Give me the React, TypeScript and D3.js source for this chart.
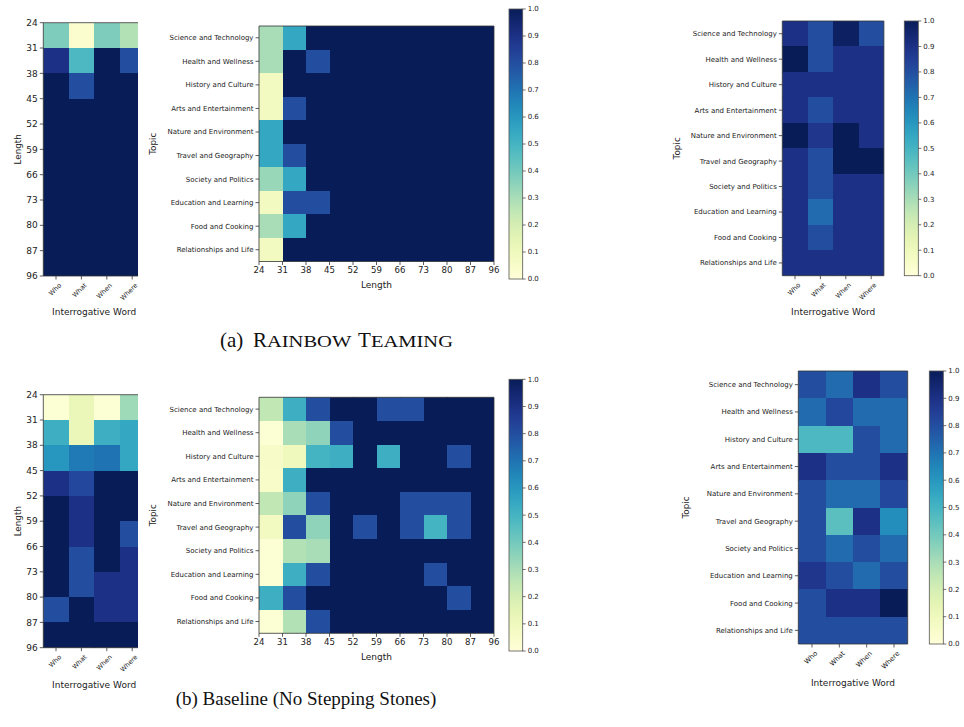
import React from "react";
import * as d3 from "d3";

const topics = [
  "Science and Technology",
  "Health and Wellness",
  "History and Culture",
  "Arts and Entertainment",
  "Nature and Environment",
  "Travel and Geography",
  "Society and Politics",
  "Education and Learning",
  "Food and Cooking",
  "Relationships and Life",
];
const words = ["Who", "What", "When", "Where"];
const lengthTicks = ["24", "31", "38", "45", "52", "59", "66", "73", "80", "87", "96"];
const cbTicks = [0, 0.1, 0.2, 0.3, 0.4, 0.5, 0.6, 0.7, 0.8, 0.9, 1.0];

// (a) Rainbow Teaming
const rtLengthWord = [
  [0.38, 0.03, 0.38, 0.28],
  [0.9, 0.48, 1, 0.8],
  [1, 0.8, 1, 1],
  [1, 1, 1, 1],
  [1, 1, 1, 1],
  [1, 1, 1, 1],
  [1, 1, 1, 1],
  [1, 1, 1, 1],
  [1, 1, 1, 1],
  [1, 1, 1, 1],
];
const rtTopicLength = [
  [0.3, 0.55, 1, 1, 1, 1, 1, 1, 1, 1],
  [0.3, 1, 0.8, 1, 1, 1, 1, 1, 1, 1],
  [0.08, 1, 1, 1, 1, 1, 1, 1, 1, 1],
  [0.08, 0.8, 1, 1, 1, 1, 1, 1, 1, 1],
  [0.55, 1, 1, 1, 1, 1, 1, 1, 1, 1],
  [0.55, 0.8, 1, 1, 1, 1, 1, 1, 1, 1],
  [0.33, 0.55, 1, 1, 1, 1, 1, 1, 1, 1],
  [0.08, 0.8, 0.8, 1, 1, 1, 1, 1, 1, 1],
  [0.3, 0.55, 1, 1, 1, 1, 1, 1, 1, 1],
  [0.08, 1, 1, 1, 1, 1, 1, 1, 1, 1],
];
const rtTopicWord = [
  [0.9, 0.8, 0.98, 0.8],
  [1, 0.8, 0.9, 0.9],
  [0.9, 0.9, 0.9, 0.9],
  [0.9, 0.8, 0.9, 0.9],
  [1, 0.88, 1, 0.9],
  [0.9, 0.8, 1, 1],
  [0.9, 0.8, 0.9, 0.9],
  [0.9, 0.72, 0.9, 0.9],
  [0.9, 0.8, 0.9, 0.9],
  [0.9, 0.9, 0.9, 0.9],
];

// (b) Baseline (No Stepping Stones)
const blLengthWord = [
  [0.02, 0.12, 0.02, 0.32],
  [0.52, 0.12, 0.52, 0.55],
  [0.6, 0.68, 0.7, 0.55],
  [0.9, 0.82, 1, 1],
  [1, 0.9, 1, 1],
  [1, 0.9, 1, 0.8],
  [1, 0.8, 1, 0.9],
  [1, 0.8, 0.9, 0.9],
  [0.8, 1, 0.9, 0.9],
  [1, 1, 1, 1],
];
const blTopicLength = [
  [0.25, 0.52, 0.8, 1, 1, 0.8, 0.8, 1, 1, 1],
  [0.02, 0.3, 0.35, 0.8, 1, 1, 1, 1, 1, 1],
  [0.06, 0.1, 0.5, 0.52, 1, 0.52, 1, 1, 0.8, 1],
  [0.05, 0.52, 1, 1, 1, 1, 1, 1, 1, 1],
  [0.25, 0.35, 0.8, 1, 1, 1, 0.8, 0.8, 0.8, 1],
  [0.08, 0.8, 0.35, 1, 0.8, 1, 0.8, 0.5, 0.8, 1],
  [0.02, 0.28, 0.3, 1, 1, 1, 1, 1, 1, 1],
  [0.02, 0.52, 0.8, 1, 1, 1, 1, 0.8, 1, 1],
  [0.52, 0.8, 1, 1, 1, 1, 1, 1, 0.8, 1],
  [0.02, 0.28, 0.8, 1, 1, 1, 1, 1, 1, 1],
];
const blTopicWord = [
  [0.8, 0.72, 0.9, 0.8],
  [0.72, 0.82, 0.72, 0.72],
  [0.48, 0.48, 0.8, 0.72],
  [0.9, 0.8, 0.8, 0.9],
  [0.8, 0.72, 0.72, 0.82],
  [0.8, 0.45, 0.9, 0.63],
  [0.8, 0.72, 0.8, 0.72],
  [0.88, 0.8, 0.72, 0.8],
  [0.8, 0.9, 0.9, 1.0],
  [0.8, 0.8, 0.8, 0.8],
];

const color = d3.scaleSequential(d3.interpolateYlGnBu).domain([0, 1]);
const FONT = "DejaVu Sans, sans-serif";
const SERIF = "Liberation Serif, serif";
const INK = "#333";

type HMProps = {
  id: string;
  data: number[][];
  left: number;
  top: number;
  cw: number;
  ch: number;
  rowLabels: string[];
  colLabels: string[];
  rowEdges?: boolean;
  colEdges?: boolean;
  clipRight?: number;
  xTitle: string;
  yTitle: string;
  xTitleY: number;
  yTitleX: number;
  rowFont: number;
  colFont: number;
  rotateX?: boolean;
};

const Heatmap = (p: HMProps) => {
  const nR = p.data.length;
  const nC = p.data[0].length;
  const fullRight = p.left + nC * p.cw;
  const bottom = p.top + nR * p.ch;
  const right = p.clipRight ?? fullRight;
  const x = d3.scaleBand<number>().domain(d3.range(nC)).range([p.left, fullRight]);
  const y = d3.scaleBand<number>().domain(d3.range(nR)).range([p.top, bottom]);
  const xe = d3.scaleLinear().domain([0, nC]).range([p.left, fullRight]);
  const ye = d3.scaleLinear().domain([0, nR]).range([p.top, bottom]);

  const yTicks = p.rowEdges
    ? p.rowLabels.map((l, i) => ({ l, v: ye(i) }))
    : p.rowLabels.map((l, i) => ({ l, v: (y(i) as number) + y.bandwidth() / 2 }));
  const xTicks = p.colEdges
    ? p.colLabels.map((l, i) => ({ l, v: xe(i) }))
    : p.colLabels.map((l, i) => ({ l, v: (x(i) as number) + x.bandwidth() / 2 }));

  return (
    <g>
      <defs>
        <clipPath id={p.id}>
          <rect x={p.left} y={p.top} width={right - p.left} height={bottom - p.top} />
        </clipPath>
      </defs>
      <g clipPath={`url(#${p.id})`} shapeRendering="crispEdges">
        {p.data.map((row, r) =>
          row.map((v, c) => (
            <rect
              key={`${r}-${c}`}
              x={x(c)}
              y={y(r)}
              width={x.bandwidth() + 0.6}
              height={y.bandwidth() + 0.6}
              fill={color(v)}
            />
          ))
        )}
      </g>
      <path
        d={
          p.clipRight !== undefined
            ? `M${right},${p.top}H${p.left}V${bottom}H${right}`
            : `M${p.left},${p.top}H${right}V${bottom}H${p.left}Z`
        }
        fill="none"
        stroke={INK}
        strokeWidth={0.8}
      />
      {yTicks.map((t) => (
        <g key={`y${t.l}`}>
          <line x1={p.left - 3.5} x2={p.left} y1={t.v} y2={t.v} stroke={INK} strokeWidth={0.8} />
          <text
            x={p.left - 5.5}
            y={t.v}
            dy="0.35em"
            textAnchor="end"
            fontSize={p.rowFont}
            fontFamily={FONT}
            fill="#222"
          >
            {t.l}
          </text>
        </g>
      ))}
      {xTicks.map((t) => (
        <g key={`x${t.l}`}>
          <line x1={t.v} x2={t.v} y1={bottom} y2={bottom + 3.5} stroke={INK} strokeWidth={0.8} />
          {p.rotateX ? (
            <text
              transform={`translate(${t.v + 2.5},${bottom + 6.5}) rotate(-45)`}
              dy="0.7em"
              textAnchor="end"
              fontSize={p.colFont}
              fontFamily={FONT}
              fill="#222"
            >
              {t.l}
            </text>
          ) : (
            <text
              x={t.v}
              y={bottom + 5}
              dy="0.78em"
              textAnchor="middle"
              fontSize={p.colFont}
              fontFamily={FONT}
              fill="#222"
            >
              {t.l}
            </text>
          )}
        </g>
      ))}
      <text
        x={(p.left + fullRight) / 2}
        y={p.xTitleY}
        textAnchor="middle"
        fontSize={9}
        fontFamily={FONT}
        fill="#222"
      >
        {p.xTitle}
      </text>
      <text
        transform={`translate(${p.yTitleX},${(p.top + bottom) / 2}) rotate(-90)`}
        textAnchor="middle"
        fontSize={8.8}
        fontFamily={FONT}
        fill="#222"
      >
        {p.yTitle}
      </text>
    </g>
  );
};

type CBProps = { id: string; left: number; top: number; w: number; h: number };

const Colorbar = (p: CBProps) => {
  const yScale = d3.scaleLinear().domain([0, 1]).range([p.top + p.h, p.top]);
  const stops = d3.range(0, 1.0001, 0.05);
  return (
    <g>
      <defs>
        <linearGradient id={p.id} x1="0" y1="1" x2="0" y2="0">
          {stops.map((s) => (
            <stop key={s} offset={s} stopColor={color(s)} />
          ))}
        </linearGradient>
      </defs>
      <rect x={p.left} y={p.top} width={p.w} height={p.h} fill={`url(#${p.id})`} stroke="#555" strokeWidth={0.8} />
      {cbTicks.map((t) => (
        <g key={t}>
          <line
            x1={p.left + p.w}
            x2={p.left + p.w + 3}
            y1={yScale(t)}
            y2={yScale(t)}
            stroke={INK}
            strokeWidth={0.7}
          />
          <text
            x={p.left + p.w + 5}
            y={yScale(t)}
            dy="0.35em"
            fontSize={7}
            fontFamily={FONT}
            fill="#222"
          >
            {t.toFixed(1)}
          </text>
        </g>
      ))}
    </g>
  );
};

// small-caps word: full-width capitals squashed vertically
const SmallCaps = ({ x, y, text }: { x: number; y: number; text: string }) => (
  <text
    transform={`translate(${x},${y}) scale(1,0.78)`}
    fontFamily={SERIF}
    fontSize={20.5}
    fill="#111"
  >
    {text}
  </text>
);

const App = () => {
  return (
    <svg
      width={964}
      height={727}
      style={{ position: "absolute", left: 0, top: 0, background: "#fff" }}
    >
      <rect width={964} height={727} fill="#fff" />

      {/* (a) Rainbow Teaming */}
      <Heatmap
        id="c1"
        data={rtLengthWord}
        left={43.3}
        top={22.7}
        cw={25.4}
        ch={25.33}
        rowLabels={lengthTicks}
        colLabels={words}
        rowEdges
        clipRight={138}
        rotateX
        xTitle="Interrogative Word"
        yTitle="Length"
        xTitleY={315}
        yTitleX={21}
        rowFont={9}
        colFont={6.5}
      />
      <Heatmap
        id="c2"
        data={rtTopicLength}
        left={259}
        top={26}
        cw={23.5}
        ch={23.55}
        rowLabels={topics}
        colLabels={lengthTicks}
        colEdges
        xTitle="Length"
        yTitle="Topic"
        xTitleY={288}
        yTitleX={156}
        rowFont={7}
        colFont={8.6}
      />
      <Colorbar id="g1" left={509} top={9} w={13.7} h={270} />
      <Heatmap
        id="c3"
        data={rtTopicWord}
        left={782.3}
        top={21}
        cw={25.4}
        ch={25.47}
        rowLabels={topics}
        colLabels={words}
        rotateX
        xTitle="Interrogative Word"
        yTitle="Topic"
        xTitleY={315}
        yTitleX={680}
        rowFont={7}
        colFont={6.5}
      />
      <Colorbar id="g2" left={904.3} top={21} w={14} h={254.7} />

      {/* (b) Baseline */}
      <Heatmap
        id="c4"
        data={blLengthWord}
        left={43.3}
        top={394.7}
        cw={25.4}
        ch={25.3}
        rowLabels={lengthTicks}
        colLabels={words}
        rowEdges
        clipRight={138}
        rotateX
        xTitle="Interrogative Word"
        yTitle="Length"
        xTitleY={688}
        yTitleX={21}
        rowFont={9}
        colFont={6.5}
      />
      <Heatmap
        id="c5"
        data={blTopicLength}
        left={259}
        top={397.3}
        cw={23.5}
        ch={23.6}
        rowLabels={topics}
        colLabels={lengthTicks}
        colEdges
        xTitle="Length"
        yTitle="Topic"
        xTitleY={660}
        yTitleX={156}
        rowFont={7}
        colFont={8.6}
      />
      <Colorbar id="g3" left={509} top={379.3} w={13.7} h={271.7} />
      <Heatmap
        id="c6"
        data={blTopicWord}
        left={798.3}
        top={371}
        cw={27.35}
        ch={27.3}
        rowLabels={topics}
        colLabels={words}
        rotateX
        xTitle="Interrogative Word"
        yTitle="Topic"
        xTitleY={686}
        yTitleX={689}
        rowFont={7}
        colFont={6.8}
      />
      <Colorbar id="g4" left={929.3} top={371} w={14} h={273} />

      {/* captions */}
      <text x={220} y={346.7} fontFamily={SERIF} fontSize={21} fill="#111">(a)</text>
      <text x={253} y={346.7} fontFamily={SERIF} fontSize={21} fill="#111">R</text>
      <SmallCaps x={267} y={346.7} text="AINBOW" />
      <text x={358} y={346.7} fontFamily={SERIF} fontSize={21} fill="#111">T</text>
      <SmallCaps x={371} y={346.7} text="EAMING" />
      <text x={306} y={705} textAnchor="middle" fontFamily={SERIF} fontSize={19} fill="#111">
        (b) Baseline (No Stepping Stones)
      </text>
    </svg>
  );
};

export default App;
